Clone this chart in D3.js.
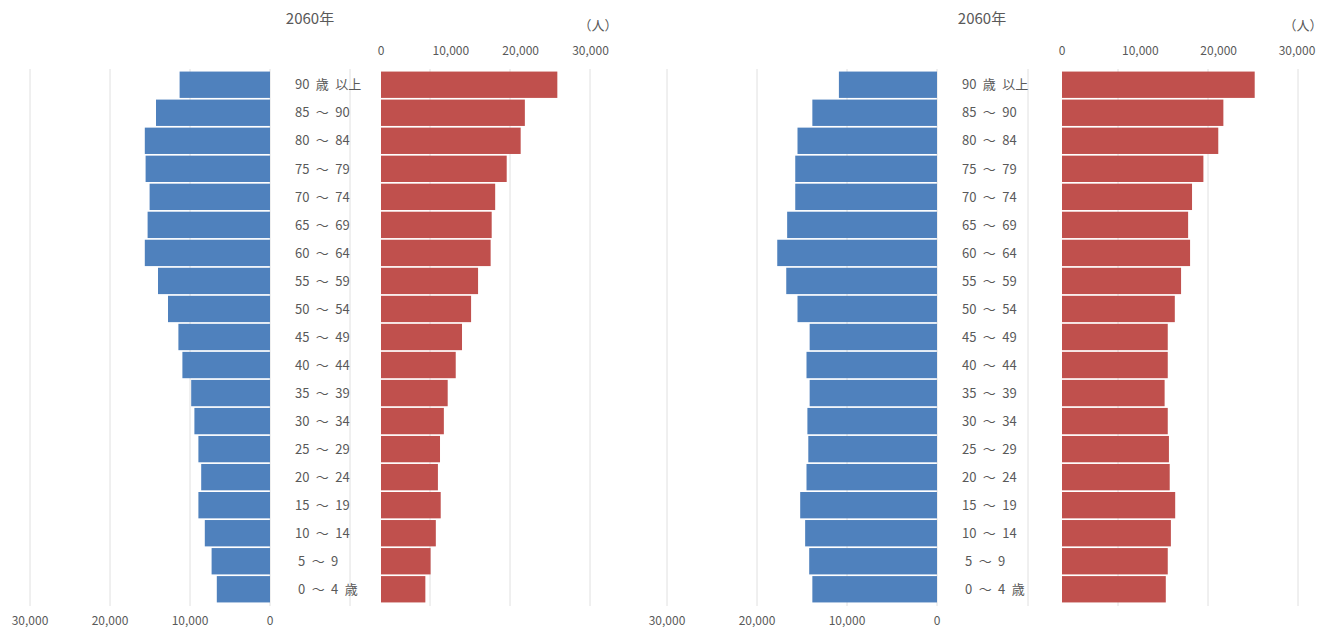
<!DOCTYPE html>
<html>
<head>
<meta charset="utf-8">
<script src="https://cdn.jsdelivr.net/npm/d3@7"></script>
<style>
  html, body { margin: 0; padding: 0; background: #ffffff; }
  svg { display: block; }
  text { font-family: "Noto Sans CJK JP", "Noto Sans", sans-serif; fill: #595959; }
</style>
</head>
<body>
<svg id="chart" width="1322" height="628"></svg>
<script>
// ---- data ----
const ageGroups = ["90 歳 以上","85 ～ 90","80 ～ 84","75 ～ 79","70 ～ 74","65 ～ 69","60 ～ 64","55 ～ 59","50 ～ 54","45 ～ 49","40 ～ 44","35 ～ 39","30 ～ 34","25 ～ 29","20 ～ 24","15 ～ 19","10 ～ 14","5 ～ 9","0 ～ 4 歳"];
const maleLeft   = [11300,14250,15650,15550,15050,15300,15650,14000,12750,11450,10950,9850,9450,8950,8600,8950,8150,7300,6650];
const femaleLeft = [25250,20600,20000,18000,16350,15850,15700,13900,12900,11600,10700,9550,9000,8450,8150,8550,7850,7100,6350];
const maleRight  = [10900,13850,15500,15750,15750,16650,17750,16750,15500,14150,14500,14150,14400,14300,14500,15200,14650,14200,13850];
const femaleRight= [24600,20600,19950,18050,16600,16100,16350,15200,14400,13500,13500,13100,13500,13650,13750,14450,13900,13500,13250];
const maleTicks   = [30000,20000,10000,0];
const femaleTicks = [0,10000,20000,30000];
const titles = ["2060年","2060年"];
const unitLabel = "（人）";

// ---- layout ----
const svg = d3.select("#chart");
const fmt = d3.format(",");
const yTop = 71, yBottom = 603;
const y = d3.scaleBand().domain(ageGroups).range([yTop, yBottom]).paddingInner(0.06).paddingOuter(0.02);

const panels = [
  { male: maleLeft, female: femaleLeft, title: titles[0],
    maleRange: [270, 30], femaleRange: [381, 590.5], gridF: [350, 590], center: 310, unitX: 598 },
  { male: maleRight, female: femaleRight, title: titles[1],
    maleRange: [937, 667], femaleRange: [1062, 1297], gridF: [1028, 1298], center: 982, unitX: 1303 }
];

panels.forEach(p => {
  const g = svg.append("g");
  const xm = d3.scaleLinear().domain([0, 30000]).range(p.maleRange);
  const xf = d3.scaleLinear().domain([0, 30000]).range(p.femaleRange);
  const xg = d3.scaleLinear().domain([0, 30000]).range(p.gridF);

  // gridlines
  g.selectAll(".gm").data(maleTicks).join("line")
    .attr("x1", d => xm(d)).attr("x2", d => xm(d))
    .attr("y1", 69).attr("y2", 606)
    .attr("stroke", "#e0e0e0").attr("stroke-width", 1);
  g.selectAll(".gf").data(femaleTicks).join("line")
    .attr("x1", d => xg(d)).attr("x2", d => xg(d))
    .attr("y1", 69).attr("y2", 606)
    .attr("stroke", "#e0e0e0").attr("stroke-width", 1);

  // male bars
  g.selectAll(".bm").data(p.male).join("rect")
    .attr("x", d => xm(d)).attr("width", d => xm(0) - xm(d))
    .attr("y", (d, i) => y(ageGroups[i])).attr("height", y.bandwidth())
    .attr("fill", "#4f81bd");
  // female bars
  g.selectAll(".bf").data(p.female).join("rect")
    .attr("x", xf(0)).attr("width", d => xf(d) - xf(0))
    .attr("y", (d, i) => y(ageGroups[i])).attr("height", y.bandwidth())
    .attr("fill", "#c0504d");

  // age labels
  g.selectAll(".lab").data(ageGroups).join("text")
    .attr("x", d => xm(0) + 25 + (/^\d\s/.test(d) ? 3 : 0))
    .attr("y", d => y(d) + y.bandwidth() / 2)
    .attr("dy", "0.36em")
    .attr("font-size", 13)
    .attr("word-spacing", 3.5)
    .text(d => d);

  // bottom male axis labels
  g.selectAll(".tm").data(maleTicks).join("text")
    .attr("x", d => xm(d)).attr("y", 625)
    .attr("text-anchor", "middle").attr("font-size", 12)
    .text(d => fmt(d));
  // top female axis labels
  g.selectAll(".tf").data(femaleTicks).join("text")
    .attr("x", d => xf(d)).attr("y", 55)
    .attr("text-anchor", "middle").attr("font-size", 12)
    .text(d => fmt(d));

  // title
  g.append("text").attr("x", p.center).attr("y", 24)
    .attr("text-anchor", "middle").attr("font-size", 15)
    .text(p.title);
  // unit
  g.append("text").attr("x", p.unitX).attr("y", 30)
    .attr("text-anchor", "middle").attr("font-size", 13)
    .text(unitLabel);
});
</script>
</body>
</html>
